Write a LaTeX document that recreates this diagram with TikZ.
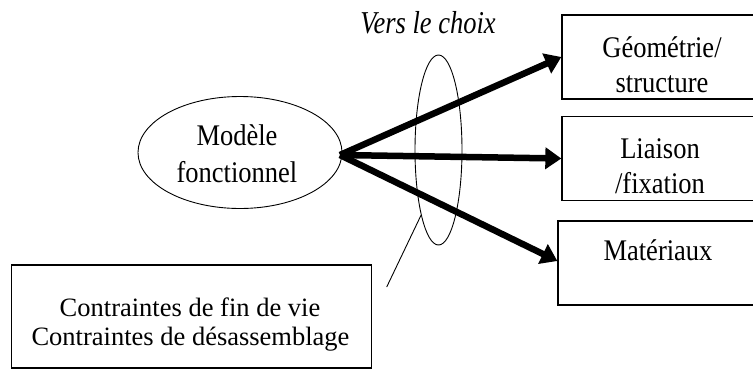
\documentclass[tikz,border=0pt]{standalone}
\usepackage{fontspec}
\usepackage{graphicx}
\setmainfont{Liberation Serif}
\usetikzlibrary{shapes.geometric,arrows.meta}
\newcommand{\tallt}[1]{\scalebox{1}[1.13]{#1}}
\tikzset{
  box/.style={draw, line width=1.3pt, rectangle, inner sep=0pt, minimum width=200pt, minimum height=84pt},
  txt/.style={anchor=base, inner sep=0pt, font=\fontsize{26.5}{30}\selectfont},
  bigarrow/.style={line width=6.5pt, -{Triangle[length=16pt,width=21pt]}},
  thin/.style={line width=0.9pt}
}
\begin{document}
\begin{tikzpicture}[x=1pt,y=-1pt]
\useasboundingbox (0,0) rectangle (753,370);
% main ellipse
\node[ellipse, draw, thin, minimum width=204pt, minimum height=112pt, inner sep=0pt] (model) at (240,152.5) {};
\node[txt] (m1) at (237,145) {\tallt{Modèle}};
\node[txt] (m2) at (237,182) {\tallt{fonctionnel}};
% right boxes
\node[box] (b1) at (662,57) {};
\node[txt] (b1a) at (662,57) {\tallt{Géométrie/}};
\node[txt] (b1b) at (662,92) {\tallt{structure}};
\node[box] (b2) at (662,158.5) {};
\node[txt] (b2a) at (660,158) {\tallt{Liaison}};
\node[txt] (b2b) at (660,193) {\tallt{/fixation}};
\node[box] (b3) at (658,263) {};
\node[txt] (b3a) at (658,260) {\tallt{Matériaux}};
% small ellipse
\node[ellipse, draw, thin, minimum width=47pt, minimum height=190pt, inner sep=0pt] (sel) at (438.5,150) {};
\node[txt, font=\fontsize{26.5}{30}\selectfont\itshape] (vers) at (428,33) {\scalebox{1}[1.2]{Vers le choix}};
% arrows
\coordinate (src) at (340,155);
\draw[bigarrow] (src) -- (b1.west);
\draw[bigarrow] (src) -- (b2.west);
\draw[bigarrow] (src) -- ([yshift=2pt]b3.west);
% bottom box
\node[box, minimum width=360pt, minimum height=103pt] (cbox) at (191.7,316.5) {};
\node[txt] (c1) at (190,316) {Contraintes de fin de vie};
\node[txt] (c2) at (190.5,345) {Contraintes de désassemblage};
% connector line
\coordinate (cl) at (386.7,287);
\draw[thin] (sel.255) -- (cl);
\end{tikzpicture}
\end{document}
